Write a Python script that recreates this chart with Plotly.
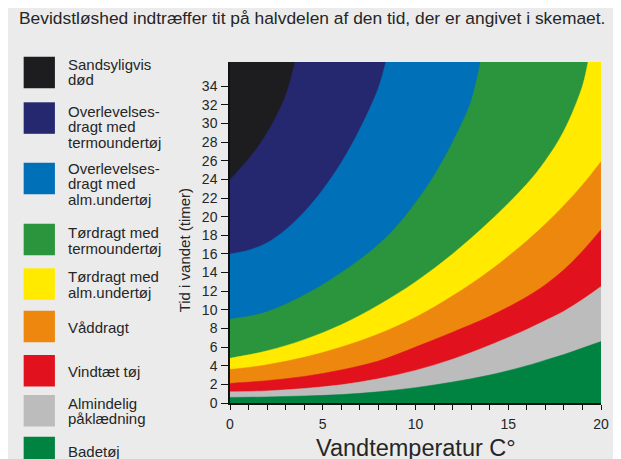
import plotly.graph_objects as go

# ---------------- data ----------------
TITLE = "Bevidstløshed indtræffer tit på halvdelen af den tid, der er angivet i skemaet."
X_TITLE = "Vandtemperatur C°"
Y_TITLE = "Tid i vandet (timer)"

CATEGORIES = [
    "Sandsyligvis død",
    "Overlevelsesdragt med termoundertøj",
    "Overlevelsesdragt med alm.undertøj",
    "Tørdragt med termoundertøj",
    "Tørdragt med alm.undertøj",
    "Våddragt",
    "Vindtæt tøj",
    "Almindelig påklædning",
    "Badetøj",
]
LEGEND_LINES = [
    ["Sandsyligvis", "død"],
    ["Overlevelses-", "dragt med", "termoundertøj"],
    ["Overlevelses-", "dragt med", "alm.undertøj"],
    ["Tørdragt med", "termoundertøj"],
    ["Tørdragt med", "alm.undertøj"],
    ["Våddragt"],
    ["Vindtæt tøj"],
    ["Almindelig", "påklædning"],
    ["Badetøj"],
]
COLORS = ["#1d1d1f", "#25276f", "#0070b9", "#2a953c", "#ffea00",
          "#ee870e", "#e1121d", "#bcbcbc", "#008241"]

# upper edge (hours) of each band below the top band, by water temperature (°C)
temp_overlev_termo = [0, 1, 2, 3, 3.5]
time_overlev_termo = [24.0, 26.2, 29.0, 33.0, 36.6]

temp_overlev_alm = [0, 1, 2, 3, 4, 5, 6, 7, 8, 8.4]
time_overlev_alm = [16.0, 16.4, 17.2, 18.6, 20.5, 22.9, 25.8, 29.4, 33.8, 36.6]

temp_tor_termo = [0, 1, 2, 3, 4, 5, 6, 7, 8, 9, 10, 11, 12, 13, 13.5]
time_tor_termo = [9.0, 9.3, 9.8, 10.6, 11.6, 12.7, 14.0, 15.4, 17.0, 19.0, 21.5, 24.4, 28.0, 32.4, 36.6]

temp_tor_alm = [0, 2, 4, 6, 8, 10, 12, 14, 16, 17, 18, 19, 19.3]
time_tor_alm = [4.8, 5.6, 6.8, 8.4, 10.5, 13.0, 16.0, 19.5, 23.5, 26.0, 29.2, 34.0, 36.6]

temp_vaad = [0, 2, 4, 6, 8, 10, 12, 14, 16, 17, 18, 19, 20]
time_vaad = [3.6, 4.1, 4.9, 6.0, 7.4, 9.2, 11.5, 14.2, 17.4, 19.2, 21.2, 23.4, 25.9]

temp_vindtaet = [0, 2, 4, 6, 8, 10, 12, 14, 16, 17, 18, 19, 20]
time_vindtaet = [2.1, 2.4, 2.85, 3.55, 4.5, 6.0, 7.6, 9.3, 11.4, 12.7, 14.3, 16.3, 18.6]

temp_alm = [0, 2, 4, 6, 8, 10, 12, 14, 16, 17, 18, 19, 20]
time_alm = [1.2, 1.3, 1.55, 1.95, 2.6, 3.5, 4.7, 6.2, 7.9, 8.85, 9.85, 11.1, 12.5]

temp_bade = [0, 2, 4, 6, 8, 10, 12, 14, 16, 17, 18, 19, 20]
time_bade = [0.6, 0.65, 0.75, 0.9, 1.2, 1.65, 2.25, 3.0, 4.0, 4.6, 5.2, 5.9, 6.6]

BOUNDARIES = [
    (temp_overlev_termo, time_overlev_termo),
    (temp_overlev_alm, time_overlev_alm),
    (temp_tor_termo, time_tor_termo),
    (temp_tor_alm, time_tor_alm),
    (temp_vaad, time_vaad),
    (temp_vindtaet, time_vindtaet),
    (temp_alm, time_alm),
    (temp_bade, time_bade),
]

X_MAX = 20
Y_MAX = 36.6
Y_TICKS = list(range(0, 35, 2))
X_TICKS = [0, 5, 10, 15, 20]

# ---------------- layout geometry ----------------
# page body has an 8px margin, so screen px = figure px + 8
OFF = 8
W, H = 621 - OFF, 459 - OFF
L, R, T, B = 230 - OFF, 604 - OFF, 62 - OFF, 403 - OFF
PW, PH = R - L, B - T


def px(x):  # screen pixel -> paper x
    return (x - OFF - L) / PW


def py(y):  # screen pixel -> paper y
    return (B - (y - OFF)) / PH


FONT = "Liberation Sans, Arial, Helvetica, sans-serif"
TXT = "#262626"
BG = "#ebebeb"

fig = go.Figure()

# top band fills the whole plot area first
fig.add_trace(go.Scatter(
    x=[0, X_MAX], y=[Y_MAX, Y_MAX], mode="lines", fill="tozeroy",
    fillcolor=COLORS[0], line=dict(width=0, color=COLORS[0]),
    hoverinfo="skip", showlegend=False, name=CATEGORIES[0]))

for i, (bx, by) in enumerate(BOUNDARIES):
    xs, ys = list(bx), list(by)
    if xs[-1] < X_MAX:
        # edge leaves through the top: continue along the top of the chart
        xs = xs + [xs[-1], X_MAX]
        ys = ys + [ys[-1], Y_MAX]
    fig.add_trace(go.Scatter(
        x=xs, y=ys, mode="lines", fill="tozeroy",
        fillcolor=COLORS[i + 1],
        line=dict(width=0.5, color=COLORS[i + 1], shape="spline", smoothing=1, simplify=False),
        hoverinfo="skip", showlegend=False, name=CATEGORIES[i + 1]))

shapes = []
annotations = []

# legend (manual)
SQ_TOPS = [56.7, 102.3, 162.7, 223.7, 268.3, 310.7, 355, 395, 436.7]
FIRST_LINE = [64.3, 111, 168.3, 232.7, 276.7, 327.3, 371.7, 403.3, 451.7]
LINE_GAP = 15.5
SQ = 31.5
for k, (lines, col) in enumerate(zip(LEGEND_LINES, COLORS)):
    t = SQ_TOPS[k]
    shapes.append(dict(type="rect", xref="paper", yref="paper",
                       x0=px(22), x1=px(22 + SQ), y0=py(t + SQ), y1=py(t),
                       fillcolor=col, line=dict(width=0)))
    for j, ln in enumerate(lines):
        annotations.append(dict(
            text=ln, xref="paper", yref="paper", x=px(64.5), y=py(FIRST_LINE[k] + j * LINE_GAP),
            xanchor="left", yanchor="middle", showarrow=False,
            font=dict(family=FONT, size=15, color=TXT)))

# title
annotations.append(dict(text=TITLE, xref="paper", yref="paper", x=px(15), y=py(18),
                        xanchor="left", yanchor="middle", showarrow=False,
                        font=dict(family=FONT, size=17.4, color=TXT)))
# y title
annotations.append(dict(text=Y_TITLE, xref="paper", yref="paper", x=px(185), y=py(250),
                        xanchor="center", yanchor="middle", textangle=-90, showarrow=False,
                        font=dict(family=FONT, size=15, color=TXT)))
# x title
annotations.append(dict(text=X_TITLE, xref="paper", yref="paper", x=px(417), y=py(448),
                        xanchor="center", yanchor="middle", showarrow=False,
                        font=dict(family=FONT, size=23.5, color=TXT)))

fig.update_layout(
    width=W, height=H,
    margin=dict(l=L, r=W - R, t=T, b=H - B, pad=0),
    paper_bgcolor=BG, plot_bgcolor=BG,
    shapes=shapes, annotations=annotations,
    showlegend=False,
    xaxis=dict(range=[0, X_MAX], tickvals=X_TICKS, ticks="outside", ticklen=5, tickwidth=1,
               tickcolor="#111", showline=True, linecolor="#111", linewidth=1.5,
               showgrid=False, zeroline=False, ticklabelstandoff=2,
               minor=dict(dtick=1, ticks="outside", ticklen=5, tickwidth=1, tickcolor="#111", showgrid=False),
               tickfont=dict(family=FONT, size=14, color=TXT)),
    yaxis=dict(range=[0, Y_MAX], tickvals=Y_TICKS, ticks="outside", ticklen=7, tickwidth=1.2,
               tickcolor="#111", showline=True, linecolor="#111", linewidth=1.5,
               showgrid=False, zeroline=False, ticklabelstandoff=1,
               tickfont=dict(family=FONT, size=14, color=TXT)),
)

fig.write_html("out.html")
